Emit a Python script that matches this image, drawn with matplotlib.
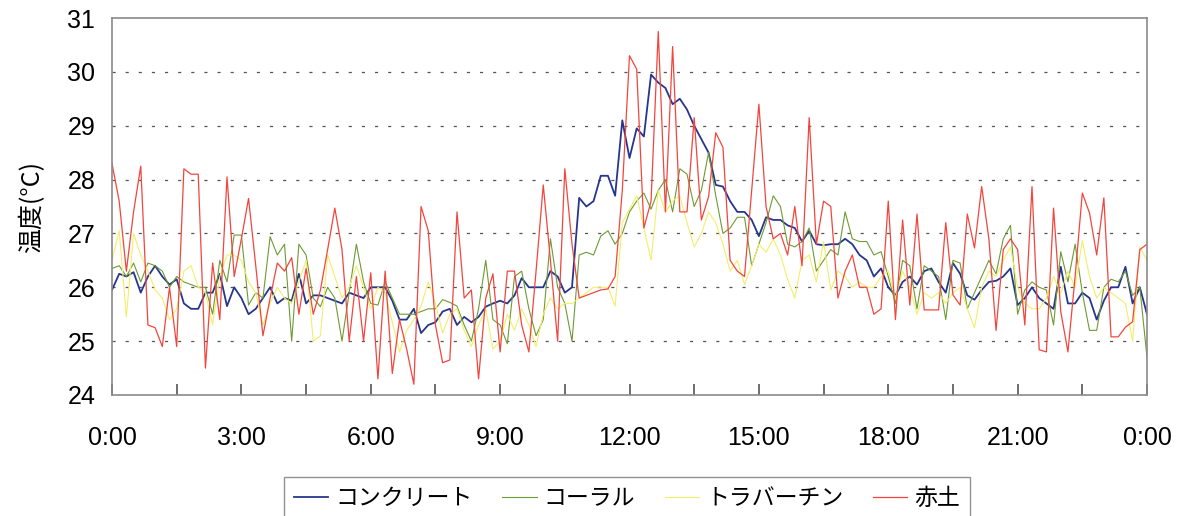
import numpy as np
import matplotlib.pyplot as plt
from matplotlib.font_manager import FontProperties

plt.rcParams['font.family'] = ['Liberation Sans Narrow', 'Liberation Sans', 'DejaVu Sans']

# 10-minute readings over one day (0:00 .. 24:00), one row per hour
minutes = np.arange(0, 24 * 60 + 1, 10)

concrete = [
    25.95, 26.25, 26.2, 26.28, 25.9, 26.2,
    26.4, 26.2, 26.05, 26.15, 25.7, 25.6,
    25.6, 25.9, 25.9, 26.25, 25.65, 26.0,
    25.8, 25.5, 25.6, 25.8, 26.0, 25.7,
    25.8, 25.75, 26.25, 25.7, 25.85, 25.85,
    25.8, 25.75, 25.7, 25.9, 25.85, 25.8,
    26.0, 26.0, 26.0, 25.75, 25.4, 25.4,
    25.6, 25.15, 25.3, 25.35, 25.55, 25.6,
    25.3, 25.45, 25.35, 25.45, 25.64, 25.7,
    25.75, 25.7, 25.85, 26.17, 26.0, 26.0,
    26.0, 26.3, 26.2, 25.9, 26.0, 27.66,
    27.5, 27.6, 28.07, 28.07, 27.7, 29.1,
    28.4, 28.95, 28.8, 29.95, 29.8, 29.7,
    29.4, 29.5, 29.3, 29.0, 28.75, 28.5,
    27.9, 27.87, 27.6, 27.4, 27.4, 27.25,
    26.95, 27.3, 27.25, 27.25, 27.15, 27.1,
    26.85, 27.05, 26.8, 26.78, 26.8, 26.8,
    26.9, 26.8, 26.6, 26.5, 26.2, 26.35,
    26.0, 25.85, 26.1, 26.2, 26.05, 26.3,
    26.35, 26.1, 25.9, 26.45, 26.25, 25.85,
    25.77, 25.95, 26.1, 26.12, 26.2, 26.35,
    25.67, 25.8, 26.0, 25.8, 25.7, 25.6,
    26.38, 25.7, 25.7, 25.9, 25.8, 25.4,
    25.75, 26.0, 26.0, 26.38, 25.7, 26.0,
    25.5,
]

coral = [
    26.35, 26.4, 26.2, 26.45, 26.1, 26.45,
    26.4, 26.3, 26.0, 26.2, 26.1, 26.05,
    26.0, 26.0, 25.5, 26.5, 26.1, 26.97,
    26.97, 25.67, 25.9, 25.8, 26.94, 26.6,
    26.8, 25.0, 26.8, 26.6, 25.8, 25.64,
    26.0, 25.8, 25.0, 25.9, 26.8, 26.1,
    25.7, 25.67, 26.1, 25.8, 25.5, 25.5,
    25.5, 25.55, 25.6, 25.6, 25.77, 25.72,
    25.65, 25.3, 25.0, 25.6, 26.5, 25.4,
    25.3, 24.95, 26.2, 26.3, 25.6, 25.1,
    25.4, 26.9, 26.0, 25.7, 25.0, 26.6,
    26.65, 26.6, 26.95, 27.05, 26.8, 27.0,
    27.4, 27.6, 27.75, 27.45, 27.8, 28.0,
    27.4, 28.2, 28.1, 27.5, 27.8, 28.5,
    27.7, 27.0, 27.1, 27.3, 27.3, 26.4,
    26.8, 27.2, 27.7, 27.5, 26.8, 26.75,
    26.85, 27.1, 26.3, 26.5, 26.7, 26.6,
    27.4, 26.9, 26.85, 26.85, 26.6, 26.66,
    26.2, 25.7, 26.5, 26.4, 25.6, 26.4,
    26.3, 26.2, 25.4, 26.5, 26.45, 25.6,
    25.9, 26.2, 26.5, 26.25, 26.9, 27.15,
    25.5, 25.95, 26.1, 26.0, 25.95, 25.3,
    26.66, 26.1, 26.8, 25.9, 25.2, 25.2,
    26.0, 26.15, 26.1, 26.3, 25.85, 26.0,
    24.7,
]

travertine = [
    26.5, 27.05, 25.45, 27.0, 26.6, 26.3,
    25.95, 25.8, 25.4, 25.6, 26.3, 26.4,
    26.0, 25.9, 25.3, 26.2, 26.6, 26.6,
    26.5, 26.1, 25.9, 25.3, 25.7, 26.0,
    25.8, 25.7, 26.1, 26.5, 25.0, 25.1,
    26.6, 26.2, 25.8, 26.0, 26.4, 26.0,
    25.6, 26.0, 25.9, 25.35, 24.8, 25.2,
    25.4, 25.65, 26.1, 25.7, 25.15, 25.5,
    25.6, 25.2, 24.9, 25.3, 25.6, 24.85,
    25.0, 25.5, 25.2, 25.6, 25.3, 24.9,
    25.5, 25.8, 25.6, 25.7, 25.7, 25.8,
    25.9, 26.0, 26.0, 26.0, 25.65, 27.2,
    27.45, 27.7, 27.1, 26.5, 27.8, 27.4,
    27.6, 27.7, 27.2, 26.75, 27.0, 27.4,
    27.2, 26.8, 26.3, 26.5, 26.05, 26.4,
    26.8, 26.65, 26.9, 26.6, 26.15, 25.8,
    26.5, 26.6, 26.1, 26.85, 25.95, 26.3,
    26.2, 26.0, 26.1, 26.0, 26.0, 26.2,
    26.3, 25.8, 26.3, 26.0, 25.5, 25.9,
    25.8, 25.9, 25.7, 25.9, 26.0, 25.6,
    25.25, 26.0, 26.3, 26.2, 26.5, 26.75,
    26.0, 25.7, 25.6, 25.6, 25.8, 26.2,
    25.9, 26.3, 26.0, 26.87, 26.2, 25.8,
    26.0, 25.9, 25.8, 25.7, 25.0, 26.75,
    26.5,
]

red_soil = [
    28.3, 27.6, 26.3, 27.4, 28.25, 25.3,
    25.25, 24.9, 26.0, 24.9, 28.2, 28.1,
    28.1, 24.5, 26.45, 25.4, 28.05, 26.2,
    26.9, 27.65, 26.4, 25.1, 25.8, 26.45,
    26.3, 26.55, 25.5, 26.35, 25.5, 25.95,
    26.7, 27.47, 26.7, 25.0, 26.2, 25.0,
    26.27, 24.3, 26.3, 24.4, 25.4, 24.85,
    24.2, 27.5, 27.05, 25.3, 24.6, 24.65,
    27.4, 25.8, 25.95, 24.3, 25.8, 26.25,
    24.8, 26.3, 26.3, 25.3, 24.8, 26.3,
    27.9, 26.5, 25.0, 28.2, 26.8, 25.8,
    25.85, 25.9, 25.95, 25.97, 26.2, 27.8,
    30.3, 30.05, 27.1, 27.6, 30.75, 27.4,
    30.47, 27.4, 27.4, 29.15, 27.25, 27.68,
    28.87, 28.6, 26.5, 26.3, 26.2, 27.8,
    29.4, 27.5, 26.9, 27.0, 26.6, 27.5,
    26.4, 29.15, 26.8, 27.6, 27.5, 25.8,
    26.3, 26.6, 26.0, 26.0, 25.5, 25.6,
    27.6, 25.4, 27.25, 25.67, 27.36, 25.58,
    25.58, 25.58, 27.2, 25.86, 25.67, 27.36,
    26.73, 27.87, 26.9, 25.2, 26.7, 26.9,
    26.7, 25.3, 27.87, 24.84, 24.8, 27.47,
    25.55, 24.8, 26.2, 27.75, 27.38, 26.6,
    27.66, 25.08, 25.08, 25.26, 25.36, 26.7,
    26.8,
]

names = ['コンクリート', 'コーラル', 'トラバーチン', '赤土']
colors = ['#26368c', '#6e9a34', '#f3ee6a', '#f2453d']
widths = [1.3, 0.8, 0.8, 0.9]
series = [concrete, coral, travertine, red_soil]

hours = minutes / 60

fig = plt.figure(figsize=(11.85, 5.16), dpi=100)
ax = fig.add_axes([112 / 1185, 1 - 395 / 516, 1035 / 1185, 377 / 516])

lines = []
for vals, name, c, lw in zip(series, names, colors, widths):
    ln, = ax.plot(hours, vals, color=c, lw=lw, label=name, zorder=3)
    lines.append(ln)

ax.set_xlim(0, 24)
ax.set_ylim(24, 31)

# ticks every 1.5 h, labels every 3 h
xt = np.arange(0, 24.01, 1.5)
xl = ['%d:00' % (int(t) % 24) if t % 3 == 0 else '' for t in xt]
ax.set_xticks(xt)
ax.set_xticklabels(xl)
ax.tick_params(axis='x', direction='in', length=8, width=1.2, color='#555555',
               pad=22, labelsize=18)
ax.set_yticks(range(24, 32))
ax.tick_params(axis='y', length=0, pad=12, labelsize=18)

for t in range(25, 31):
    ax.axhline(t, color='#555555', lw=0.9, linestyle=(0, (2.5, 8)), zorder=1)

for sp in ax.spines.values():
    sp.set_color('#8a8a8a')
    sp.set_linewidth(1.2)
    sp.set_zorder(4)

jp_label = FontProperties(family='Noto Sans CJK JP', size=18)
ax.set_ylabel('温度(°C)', fontproperties=jp_label, labelpad=16)

# legend box runs past the lower edge of the figure
jp = FontProperties(family='Noto Sans CJK JP', size=16.5)
leg = fig.legend(handles=lines, loc='upper center', ncol=4,
                 bbox_to_anchor=(627 / 1185, 1 - 477 / 516), prop=jp,
                 frameon=True, fancybox=False, edgecolor='#777777',
                 handlelength=1.5, handletextpad=0.3, columnspacing=1.3,
                 borderpad=0.45, borderaxespad=0)
leg.get_frame().set_linewidth(1.0)

fig.savefig('out.png', dpi=100)
